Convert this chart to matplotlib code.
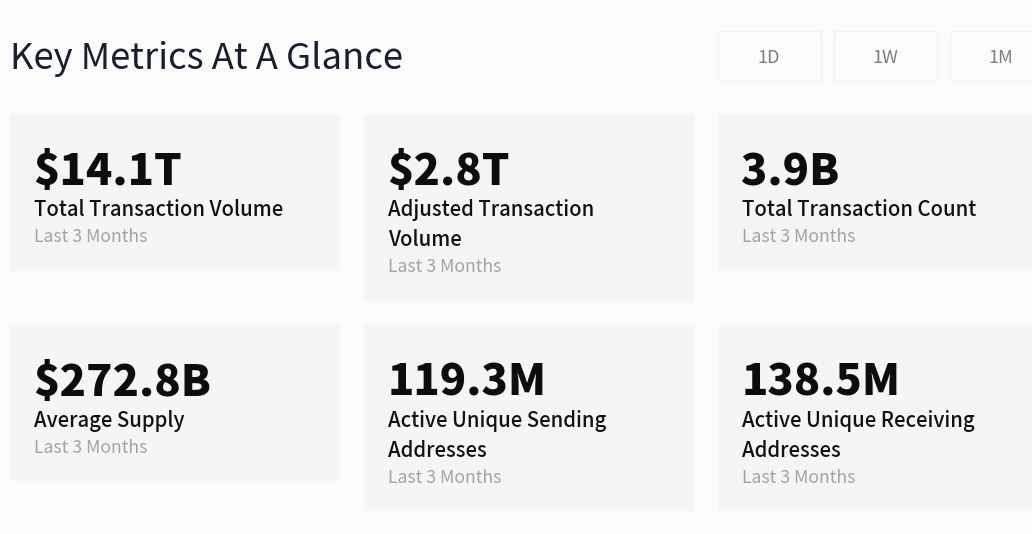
# -*- coding: utf-8 -*-
import matplotlib.pyplot as plt
from matplotlib.patches import Rectangle

values = ['$14.1T', '$2.8T', '3.9B', '$272.8B', '119.3M', '138.5M']
labels = [['Total Transaction Volume'],
          ['Adjusted Transaction', 'Volume'],
          ['Total Transaction Count'],
          ['Average Supply'],
          ['Active Unique Sending', 'Addresses'],
          ['Active Unique Receiving', 'Addresses']]
periods = ['Last 3 Months'] * 6
buttons = ['1D', '1W', '1M']

card_x = [10, 364, 718, 10, 364, 718]
card_y = [114, 114, 114, 325, 325, 325]
card_w = 330
button_x = [718, 834, 950]

plt.rcParams['font.family'] = ['Noto Sans CJK JP', 'DejaVu Sans']

fig = plt.figure(figsize=(10.32, 5.34), dpi=100, facecolor='#fbfbfc')
ax = fig.add_axes([0, 0, 1, 1])
ax.set_xlim(0, 1032)
ax.set_ylim(534, 0)
ax.axis('off')

ax.text(10, 69, 'Key Metrics At A Glance', fontsize=26.2, color='#16202f',
        va='baseline', ha='left')

for x, name in zip(button_x, buttons):
    ax.add_patch(Rectangle((x, 31), 103, 50, facecolor='none',
                           edgecolor='#f3f3f4', linewidth=1))
    ax.text(x + 51, 63, name, fontsize=13, color='#7d7d7d',
            va='baseline', ha='center')

for i in range(len(values)):
    x = card_x[i]
    y = card_y[i]
    n = len(labels[i])
    h = 157 + (n - 1) * 30
    if i >= 3:
        h = h - 1
    ax.add_patch(Rectangle((x, y), card_w, h, facecolor='#f5f5f6',
                           edgecolor='none'))
    ax.text(x + 23.5, y + 71, values[i], fontsize=31.3, fontweight='black',
            color='#0d0d0f', va='baseline', ha='left')
    for j, line in enumerate(labels[i]):
        ax.text(x + 24, y + 102 + j * 30, line, fontsize=14.6, fontweight='medium',
                color='#111114', va='baseline', ha='left')
    ax.text(x + 24, y + 128 + (n - 1) * 30, periods[i], fontsize=12.7,
            color='#a3a3a5', va='baseline', ha='left')

fig.savefig('out.png', dpi=100, facecolor=fig.get_facecolor())
plt.close()
